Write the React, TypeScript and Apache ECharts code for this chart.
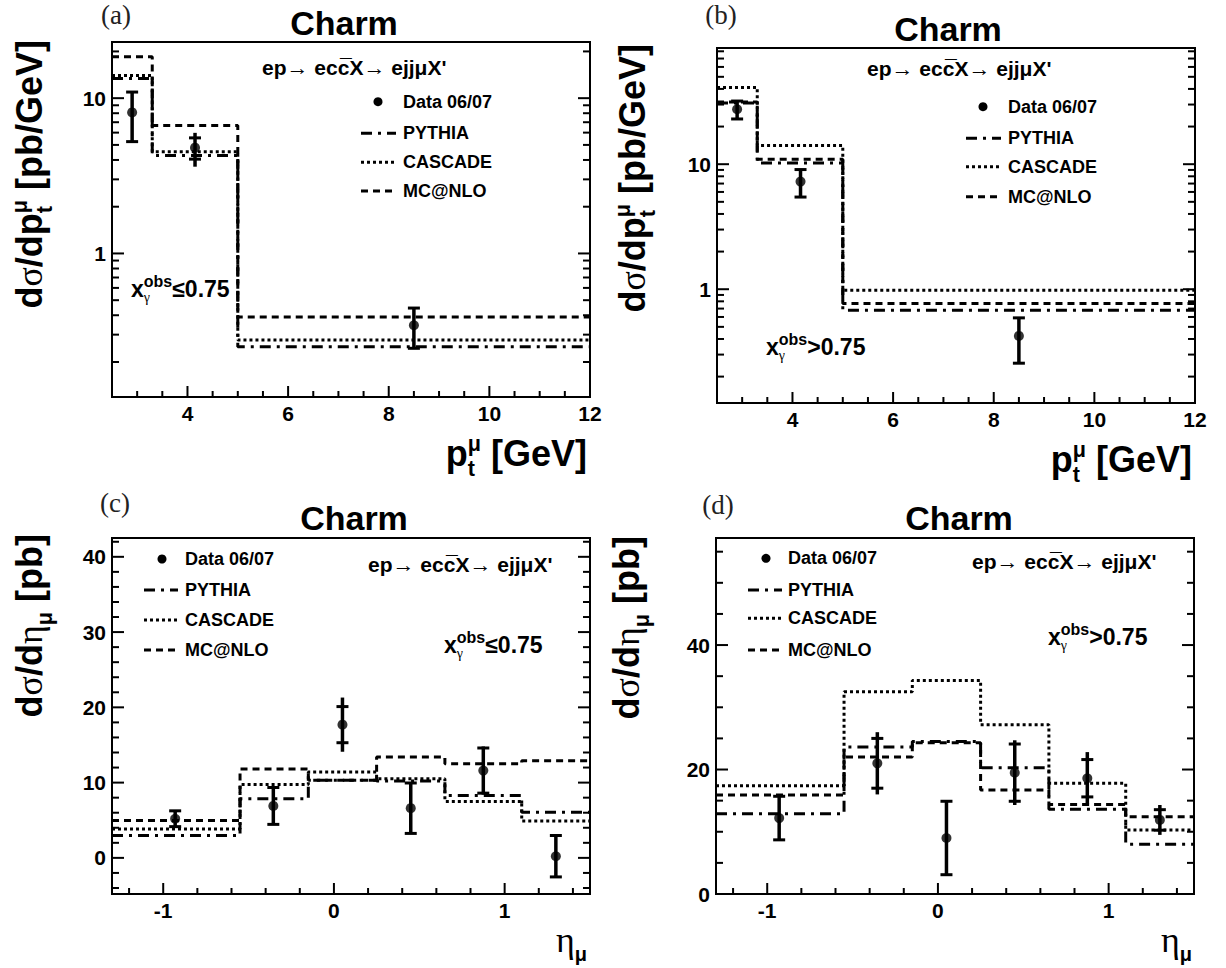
import React, { useEffect, useRef } from 'react';
import * as echarts from 'echarts';

// ---------------- data ----------------
const ptEdges = [2.5, 3.3, 5, 12];
const etaEdges = [-1.3, -0.55, -0.15, 0.25, 0.65, 1.1, 1.5];

// (a) d sigma / d pt, x_gamma <= 0.75
const aPythia = [13.4, 4.28, 0.251];
const aCascade = [14.0, 4.52, 0.277];
const aMcnlo = [18.5, 6.67, 0.39];
const aDataX = [2.9, 4.15, 8.5];
const aDataY = [8.1, 4.8, 0.345];
const aStat = [2.85, 0.75, 0.1];
const aTotal = [2.85, 1.18, 0.1];

// (b) d sigma / d pt, x_gamma > 0.75
const bPythia = [30.8, 10.2, 0.68];
const bCascade = [41.0, 14.1, 0.98];
const bMcnlo = [31.5, 10.96, 0.77];
const bDataX = [2.9, 4.16, 8.5];
const bDataY = [27.5, 7.26, 0.423];
const bStat = [4.5, 1.8, 0.167];
const bTotal = [4.9, 1.8, 0.167];

// (c) d sigma / d eta, x_gamma <= 0.75
const cPythia = [2.97, 7.84, 10.3, 10.2, 8.3, 6.07];
const cCascade = [3.85, 9.75, 11.4, 10.5, 7.5, 4.9];
const cMcnlo = [4.96, 11.8, 10.3, 13.4, 12.5, 12.9];
const etaDataX = [-0.93, -0.355, 0.05, 0.45, 0.875, 1.3];
const cDataY = [5.2, 6.9, 17.7, 6.6, 11.6, 0.22];
const cStat = [1.05, 2.45, 2.4, 3.35, 3.0, 2.75];
const cTotal = [1.05, 2.45, 3.6, 3.35, 3.2, 2.75];

// (d) d sigma / d eta, x_gamma > 0.75
const dPythia = [12.9, 23.6, 24.5, 20.3, 13.6, 8.0];
const dCascade = [17.4, 32.5, 34.3, 27.2, 17.8, 10.3];
const dMcnlo = [15.9, 22.0, 24.3, 16.7, 14.4, 12.4];
const dDataY = [12.2, 21.0, 9.0, 19.5, 18.6, 11.9];
const dStat = [3.5, 4.0, 5.9, 4.6, 3.0, 1.65];
const dTotal = [3.5, 5.0, 5.9, 5.2, 4.2, 2.4];

// tick labels / tick positions
const ptTickLabels = [4, 6, 8, 10, 12];
const etaTickLabels = [-1, 0, 1];
const logMajor = [1, 10];
const cYTickLabels = [0, 10, 20, 30, 40];
const dYTickLabels = [0, 20, 40];
const logMinorA = [0.2, 0.3, 0.4, 0.5, 0.6, 0.7, 0.8, 0.9, 2, 3, 4, 5, 6, 7, 8, 9, 20];
const logMinorB = [0.2, 0.3, 0.4, 0.5, 0.6, 0.7, 0.8, 0.9, 2, 3, 4, 5, 6, 7, 8, 9, 20, 30, 40, 50, 60, 70, 80];

const legendNames = ['Data 06/07', 'PYTHIA', 'CASCADE', 'MC@NLO'];

// ---------------- styling ----------------
const SANS = '"Liberation Sans", Arial, Helvetica, sans-serif';
const SERIF = '"Liberation Serif", "Times New Roman", serif';
const DASH_PYTHIA = [11, 6, 3, 6];
const DASH_CASCADE = [3, 3];
const DASH_MCNLO = [7, 5];

function minorTicks(a: number, b: number, step: number, major: number[]) {
  const out: number[] = [];
  for (let v = a; v <= b + 1e-9; v += step) {
    const r = +v.toFixed(4);
    if (!major.some((m) => Math.abs(m - r) < 1e-6)) out.push(r);
  }
  return out;
}

let ctx: CanvasRenderingContext2D | null = null;
function tw(t: string, s: number, serif: boolean, bold: boolean) {
  if (!ctx) ctx = document.createElement('canvas').getContext('2d');
  if (!ctx) return t.length * s * 0.55;
  ctx.font = `${bold ? 'bold' : 'normal'} ${s}px ${serif ? SERIF : SANS}`;
  return ctx.measureText(t).width;
}

type Piece = { t: string; s: number; dy?: number; serif?: boolean; light?: boolean; hold?: boolean };

function textRun(pieces: Piece[], x: number, y: number, align: string, rotation = 0) {
  const kids: any[] = [];
  let cur = 0;
  let held = 0;
  for (const p of pieces) {
    const w = tw(p.t, p.s, !!p.serif, !p.light);
    kids.push({
      type: 'text',
      x: cur,
      y: (p.dy || 0) - 0.3465 * p.s,
      style: {
        text: p.t,
        fontSize: p.s,
        fontFamily: p.serif ? SERIF : SANS,
        fontWeight: p.light ? 'normal' : 'bold',
        fill: '#000',
        align: 'left',
        verticalAlign: 'middle',
      },
    });
    if (p.hold) held = w;
    else {
      cur += Math.max(w, held);
      held = 0;
    }
  }
  const off = align === 'right' ? -cur : align === 'center' ? -cur / 2 : 0;
  kids.forEach((k) => (k.x += off));
  return { type: 'group', x, y, rotation, silent: true, children: kids };
}

function steps(edges: number[], vals: number[]) {
  const pts: number[][] = [];
  vals.forEach((v, i) => {
    pts.push([edges[i], v]);
    pts.push([edges[i + 1], v]);
  });
  return pts;
}

const TITLE = 36;

function buildOption() {
  const panels = [
    {
      grid: [112, 42, 478, 355], xr: [2.5, 12], yr: [0.119, 23], log: true,
      edges: ptEdges, py: aPythia, ca: aCascade, mc: aMcnlo, dx: aDataX, dy: aDataY, st: aStat, to: aTotal,
      xLab: ptTickLabels, xMinor: minorTicks(3, 11.5, 0.5, ptTickLabels), yMajor: logMajor, yMinor: logMinorA,
      tag: '(a)', tagPos: [116, 15], titlePos: [344, 35], proc: [262, 75], xg: [131, 297], xgText: '≤0.75',
      leg: { dot: 378, s1: 361, s2: 396, tx: 403, rows: [101.7, 133.3, 162.3, 191] },
      yTitle: [42, 40], xTitle: [587, 466], eta: false,
    },
    {
      grid: [717, 48, 478, 355], xr: [2.5, 12], yr: [0.123, 85], log: true,
      edges: ptEdges, py: bPythia, ca: bCascade, mc: bMcnlo, dx: bDataX, dy: bDataY, st: bStat, to: bTotal,
      xLab: ptTickLabels, xMinor: minorTicks(3, 11.5, 0.5, ptTickLabels), yMajor: logMajor, yMinor: logMinorB,
      tag: '(b)', tagPos: [721, 15], titlePos: [948, 41], proc: [867, 76], xg: [766, 355], xgText: '>0.75',
      leg: { dot: 983, s1: 966, s2: 1001, tx: 1008, rows: [106.7, 138.3, 166.7, 196.7] },
      yTitle: [645, 44], xTitle: [1192, 472], eta: false,
    },
    {
      grid: [112, 538, 478, 356], xr: [-1.3, 1.5], yr: [-4.8, 42.5], log: false,
      edges: etaEdges, py: cPythia, ca: cCascade, mc: cMcnlo, dx: etaDataX, dy: cDataY, st: cStat, to: cTotal,
      xLab: etaTickLabels, xMinor: minorTicks(-1.2, 1.4, 0.2, etaTickLabels), yMajor: cYTickLabels,
      yMinor: minorTicks(-4, 42, 2, cYTickLabels),
      tag: '(c)', tagPos: [115, 503], titlePos: [354, 530], proc: [368, 572], xg: [444, 653], xgText: '≤0.75',
      leg: { dot: 162, s1: 144, s2: 178, tx: 185, rows: [559, 590, 620, 650] },
      yTitle: [42, 534], xTitle: [587, 952], eta: true,
    },
    {
      grid: [716, 538, 478, 356], xr: [-1.3, 1.5], yr: [0, 57.2], log: false,
      edges: etaEdges, py: dPythia, ca: dCascade, mc: dMcnlo, dx: etaDataX, dy: dDataY, st: dStat, to: dTotal,
      xLab: etaTickLabels, xMinor: minorTicks(-1.2, 1.4, 0.2, etaTickLabels), yMajor: dYTickLabels,
      yMinor: minorTicks(5, 55, 5, dYTickLabels),
      tag: '(d)', tagPos: [718, 505], titlePos: [959, 530], proc: [972, 569], xg: [1048, 645], xgText: '>0.75',
      leg: { dot: 766, s1: 748, s2: 782, tx: 788, rows: [558.3, 590, 618.3, 650] },
      yTitle: [639, 536], xTitle: [1192, 952], eta: true,
    },
  ];

  const labelStyle = { fontSize: 21, fontWeight: 'bold', fontFamily: SANS, color: '#000' };
  const grid: any[] = [];
  const xAxis: any[] = [];
  const yAxis: any[] = [];
  const series: any[] = [];
  const graphic: any[] = [];

  const tickRender = (params: any, api: any) => {
    const cs = params.coordSys;
    const p = api.coord([api.value(0), api.value(1)]);
    const k = api.value(2);
    const style = { stroke: '#000', lineWidth: 2 };
    if (k < 2) {
      const len = k === 0 ? 11 : 6;
      const yb = cs.y + cs.height;
      return { type: 'line', shape: { x1: p[0], y1: yb, x2: p[0], y2: yb - len }, style };
    }
    const len = k === 2 ? 12 : 7;
    const xl = cs.x;
    const xr = cs.x + cs.width;
    return {
      type: 'group',
      children: [
        { type: 'line', shape: { x1: xl, y1: p[1], x2: xl + len, y2: p[1] }, style },
        { type: 'line', shape: { x1: xr, y1: p[1], x2: xr - len, y2: p[1] }, style },
      ],
    };
  };

  const errRender = (params: any, api: any) => {
    const x = api.value(0);
    const y = api.value(1);
    const s = api.value(2);
    const t = api.value(3);
    const top = api.coord([x, y + t]);
    const bot = api.coord([x, y - t]);
    const c1 = api.coord([x, y + s]);
    const c2 = api.coord([x, y - s]);
    const st = { stroke: '#000', lineWidth: 3.5 };
    const cap = { stroke: '#000', lineWidth: 3 };
    return {
      type: 'group',
      children: [
        { type: 'line', shape: { x1: top[0], y1: top[1], x2: bot[0], y2: bot[1] }, style: st },
        { type: 'line', shape: { x1: c1[0] - 6, y1: c1[1], x2: c1[0] + 6, y2: c1[1] }, style: cap },
        { type: 'line', shape: { x1: c2[0] - 6, y1: c2[1], x2: c2[0] + 6, y2: c2[1] }, style: cap },
      ],
    };
  };

  panels.forEach((P, i) => {
    grid.push({
      left: P.grid[0], top: P.grid[1], width: P.grid[2], height: P.grid[3],
      show: true, borderColor: '#000', borderWidth: 2, backgroundColor: 'transparent', containLabel: false,
    });
    xAxis.push({
      type: 'value', gridIndex: i, min: P.xr[0], max: P.xr[1],
      axisLine: { show: false }, axisTick: { show: false }, splitLine: { show: false },
      axisLabel: { ...labelStyle, margin: 6, customValues: P.xLab },
    });
    if (P.log) {
      yAxis.push({
        type: 'log', logBase: 10, gridIndex: i, min: P.yr[0], max: P.yr[1],
        axisLine: { show: false }, axisTick: { show: false }, splitLine: { show: false },
        minorTick: { show: false }, minorSplitLine: { show: false },
        axisLabel: {
          ...labelStyle, margin: 6, showMinLabel: false, showMaxLabel: false,
          formatter: (v: number) => String(Math.round(v * 100) / 100),
        },
      });
    } else {
      yAxis.push({
        type: 'value', gridIndex: i, min: P.yr[0], max: P.yr[1],
        axisLine: { show: false }, axisTick: { show: false }, splitLine: { show: false },
        axisLabel: { ...labelStyle, margin: 6, customValues: P.yMajor },
      });
    }

    const mk = (name: string, vals: number[], dash: number[], z: number) => ({
      name, type: 'line', xAxisIndex: i, yAxisIndex: i, data: steps(P.edges, vals),
      showSymbol: false, symbol: 'none', silent: true, z,
      lineStyle: { color: '#000', width: 3, type: dash, cap: 'butt' },
    });
    series.push(mk('PYTHIA', P.py, DASH_PYTHIA, 3));
    series.push(mk('CASCADE', P.ca, DASH_CASCADE, 3));
    series.push(mk('MC@NLO', P.mc, DASH_MCNLO, 3));

    series.push({
      name: 'Data 06/07 errors', type: 'custom', xAxisIndex: i, yAxisIndex: i, silent: true, z: 4,
      data: P.dx.map((x, j) => [x, P.dy[j], P.st[j], P.to[j]]),
      renderItem: errRender,
    });
    series.push({
      name: 'Data 06/07', type: 'scatter', xAxisIndex: i, yAxisIndex: i, silent: true, z: 5,
      symbol: 'circle', symbolSize: 10, itemStyle: { color: '#000' },
      data: P.dx.map((x, j) => [x, P.dy[j]]),
    });

    const xRef = P.xr[0];
    const yRef = P.yr[0];
    const tickData: number[][] = [];
    P.xLab.forEach((v) => tickData.push([v, yRef, 0]));
    P.xMinor.forEach((v) => tickData.push([v, yRef, 1]));
    P.yMajor.forEach((v) => tickData.push([xRef, v, 2]));
    P.yMinor.forEach((v) => tickData.push([xRef, v, 3]));
    series.push({
      name: 'ticks', type: 'custom', xAxisIndex: i, yAxisIndex: i, silent: true, z: 6, clip: false,
      data: tickData, renderItem: tickRender,
    });

    // ---- texts ----
    graphic.push({
      type: 'text', x: P.tagPos[0], y: P.tagPos[1], silent: true,
      style: { text: P.tag, fontSize: 27, fontFamily: SERIF, fill: '#222', align: 'center', verticalAlign: 'middle' },
    });
    graphic.push(textRun([{ t: 'Charm', s: 34 }], P.titlePos[0], P.titlePos[1], 'center'));
    graphic.push(
      textRun(
        [
          { t: 'ep', s: 21 },
          { t: '\u2192', s: 22, serif: true, light: true },
          { t: ' ecc\u0305X', s: 21 },
          { t: '\u2192', s: 22, serif: true, light: true },
          { t: ' ejj\u03bcX\'', s: 21 },
        ],
        P.proc[0], P.proc[1], 'left'
      )
    );
    graphic.push(
      textRun(
        [
          { t: 'x', s: 23 },
          { t: 'obs', s: 16, dy: -10, hold: true },
          { t: '\u03b3', s: 14, dy: 5, serif: true, light: true },
          { t: P.xgText, s: 23 },
        ],
        P.xg[0], P.xg[1], 'left'
      )
    );

    // legend
    const L = P.leg;
    graphic.push({ type: 'circle', silent: true, shape: { cx: L.dot, cy: L.rows[0], r: 4.5 }, style: { fill: '#000' } });
    const dashes = [DASH_PYTHIA, DASH_CASCADE, DASH_MCNLO];
    dashes.forEach((d, j) => {
      graphic.push({
        type: 'line', silent: true,
        shape: { x1: L.s1, y1: L.rows[j + 1], x2: L.s2, y2: L.rows[j + 1] },
        style: { stroke: '#000', lineWidth: 3, lineDash: d },
      });
    });
    legendNames.forEach((n, j) => {
      graphic.push(textRun([{ t: n, s: 18 }], L.tx, L.rows[j] + 6.3, 'left'));
    });

    // axis titles
    const F = TITLE;
    if (!P.eta) {
      graphic.push(
        textRun(
          [
            { t: 'd', s: F },
            { t: '\u03c3', s: F, serif: true, light: true },
            { t: '/dp', s: F },
            { t: '\u03bc', s: 0.6 * F, dy: -0.42 * F, hold: true },
            { t: 't', s: 0.6 * F, dy: 0.28 * F },
            { t: ' [pb/GeV]', s: F },
          ],
          P.yTitle[0], P.yTitle[1], 'right', Math.PI / 2
        )
      );
      graphic.push(
        textRun(
          [
            { t: 'p', s: F },
            { t: '\u03bc', s: 0.6 * F, dy: -0.42 * F, hold: true },
            { t: 't', s: 0.6 * F, dy: 0.28 * F },
            { t: ' [GeV]', s: F },
          ],
          P.xTitle[0], P.xTitle[1], 'right'
        )
      );
    } else {
      graphic.push(
        textRun(
          [
            { t: 'd', s: F },
            { t: '\u03c3', s: F, serif: true, light: true },
            { t: '/d', s: F },
            { t: '\u03b7', s: F, serif: true, light: true },
            { t: '\u03bc', s: 0.6 * F, dy: 0.28 * F },
            { t: ' [pb]', s: F },
          ],
          P.yTitle[0], P.yTitle[1], 'right', Math.PI / 2
        )
      );
      graphic.push(
        textRun(
          [
            { t: '\u03b7', s: 36, serif: true, light: true },
            { t: '\u03bc', s: 20, dy: 9 },
          ],
          P.xTitle[0], P.xTitle[1], 'right'
        )
      );
    }
  });

  return {
    animation: false,
    backgroundColor: '#fff',
    grid,
    xAxis,
    yAxis,
    series,
    graphic,
  };
}

export default function App() {
  const ref = useRef<HTMLDivElement>(null);
  useEffect(() => {
    if (!ref.current) return;
    const chart = echarts.init(ref.current, null, { renderer: 'svg' });
    chart.setOption(buildOption() as any);
    return () => chart.dispose();
  }, []);
  return (
    <div
      ref={ref}
      style={{ position: 'absolute', left: 0, top: 0, width: 1226, height: 968, background: '#fff' }}
    />
  );
}
